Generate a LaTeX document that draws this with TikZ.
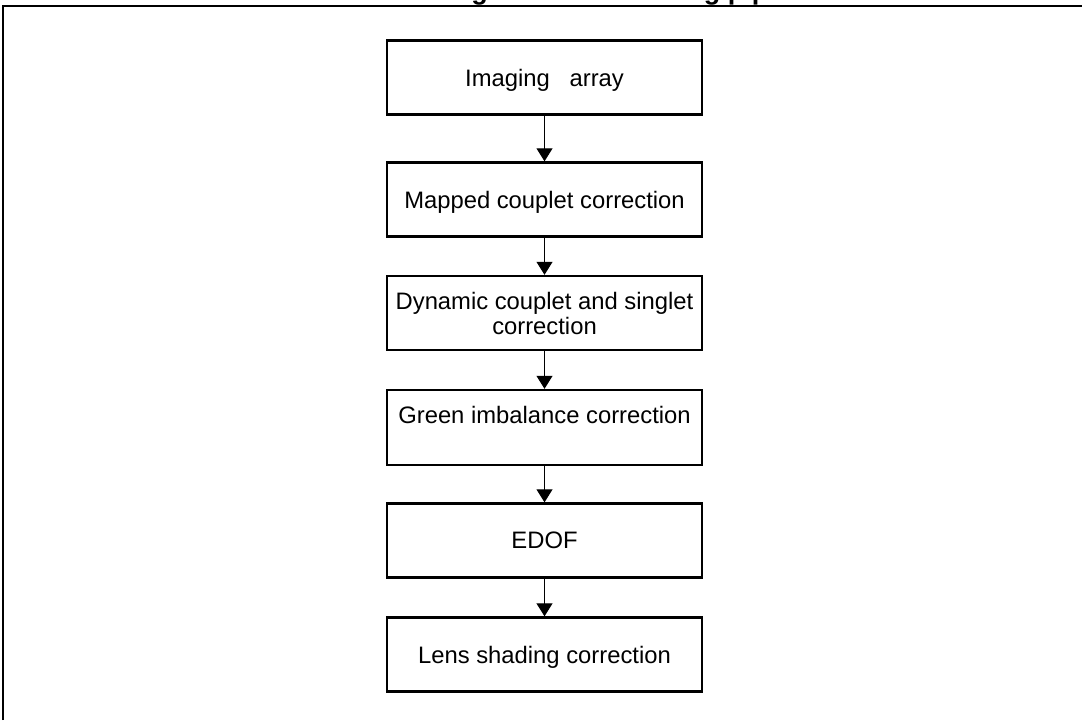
\documentclass[tikz,border=0pt]{standalone}
\usepackage{fontspec}
\setmainfont{Liberation Sans}
\usetikzlibrary{arrows.meta}
\begin{document}
\begin{tikzpicture}[x=0.5pt,y=-0.5pt,
  stage/.style={draw, line width=1.2pt, minimum width=157.5pt, minimum height=37pt,
    inner sep=0pt, align=center, text depth=0pt,
    font=\fontsize{11.9}{12.5}\selectfont},
  flow/.style={line width=0.5pt, -{Triangle[length=6.5pt,width=8pt]}},
  frame/.style={line width=0.7pt},
  heading/.style={anchor=base west, inner sep=0pt,
    font=\bfseries\fontsize{13.5}{14}\selectfont}
]
\useasboundingbox (0,0) rectangle (1082,720);

% page frame (open at right and bottom)
\draw[frame] (3,720) -- (3,6) -- (1082,6);

% heading, mostly above the page edge
\node[heading] (title) at (424.5,-1) {Image artifact handling pipeline};

% processing stages
\node[stage] (b1) at (544.5,77.5) {Imaging\ \ \ array};
\node[stage] (b2) at (544.5,199.5) {Mapped couplet correction};
\node[stage] (b3) at (544.5,313) {Dynamic couplet and singlet\\correction};
\node[stage, minimum height=37.5pt] (b4) at (544.5,427.5) {Green imbalance correction\\\mbox{}};
\node[stage] (b5) at (544.5,540.5) {EDOF};
\node[stage] (b6) at (544.5,654.5) {Lens shading correction};

% data flow
\draw[flow] (b1) -- (b2);
\draw[flow] (b2) -- (b3);
\draw[flow] (b3) -- (b4);
\draw[flow] (b4) -- (b5);
\draw[flow] (b5) -- (b6);
\end{tikzpicture}
\end{document}
